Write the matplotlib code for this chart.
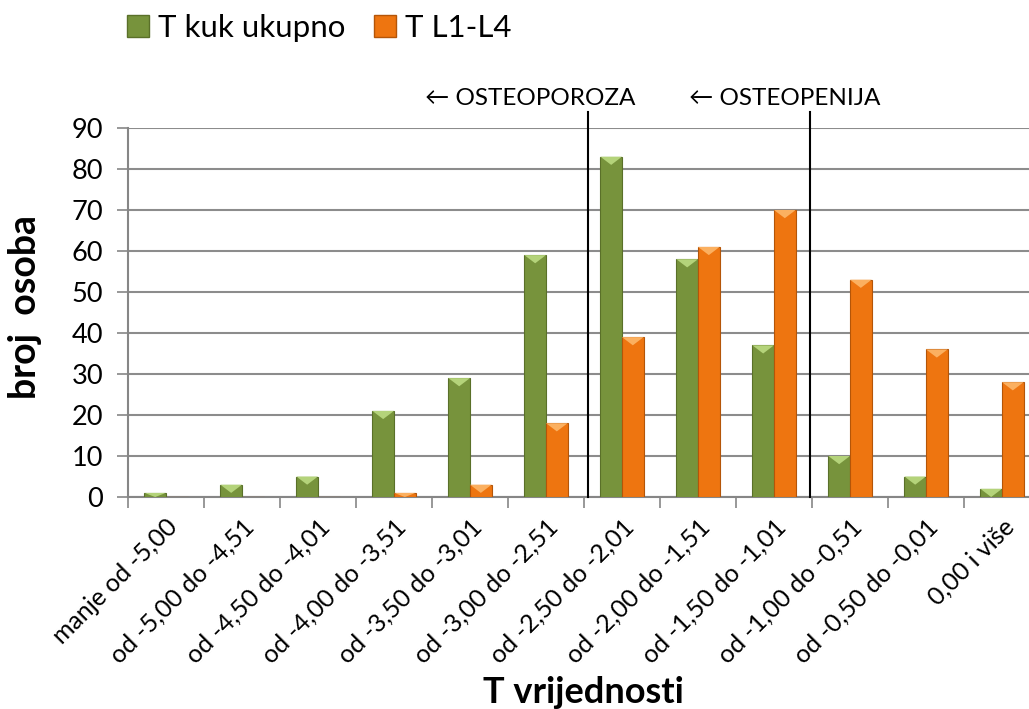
import matplotlib
matplotlib.use("Agg")
import matplotlib.pyplot as plt
from matplotlib.patches import Patch, Polygon
import numpy as np

plt.rcParams['font.family'] = ['Lato', 'DejaVu Sans']

categories = ["manje od -5,00", "od -5,00 do -4,51", "od -4,50 do -4,01",
              "od -4,00 do -3,51", "od -3,50 do -3,01", "od -3,00 do -2,51",
              "od -2,50 do -2,01", "od -2,00 do -1,51", "od -1,50 do -1,01",
              "od -1,00 do -0,51", "od -0,50 do -0,01", "0,00 i više"]
t_kuk = [1, 3, 5, 21, 29, 59, 83, 58, 37, 10, 5, 2]
t_l1l4 = [0, 0, 0, 1, 3, 18, 39, 61, 70, 53, 36, 28]
series_names = ["T kuk ukupno", "T L1-L4"]
yticks = [0, 10, 20, 30, 40, 50, 60, 70, 80, 90]
threshold_labels = ["\u2190 OSTEOPOROZA", "\u2190 OSTEOPENIJA"]
threshold_pos = [5.55, 8.47]

green = "#77933C"
green_edge = "#5A7029"
green_light = "#B4D37A"
orange = "#EE7510"
orange_edge = "#B45508"
orange_light = "#FBB060"

W, H = 1029, 709
fig = plt.figure(figsize=(W / 100, H / 100), dpi=100)
ax_left, ax_right = 128 / W, 1040 / W
ax_bottom, ax_top = 1 - 497 / H, 1 - 128 / H
ax = fig.add_axes([ax_left, ax_bottom, ax_right - ax_left, ax_top - ax_bottom])

x = np.arange(len(categories))
bw = 0.285
for vals, off, fc, ec, lc in [(t_kuk, -bw / 2, green, green_edge, green_light),
                              (t_l1l4, bw / 2, orange, orange_edge, orange_light)]:
    bars = ax.bar(x + off, vals, width=bw, color=fc, edgecolor=ec, linewidth=0.8, zorder=3)
    for b, v in zip(bars, vals):
        if v <= 0:
            continue
        x0 = b.get_x()
        x1 = x0 + b.get_width()
        h = min(2.0, v)
        tri = Polygon([[x0, v], [x1, v], [(x0 + x1) / 2, v - h]], closed=True,
                      facecolor=lc, edgecolor='none', zorder=4)
        ax.add_patch(tri)

ax.set_xlim(-0.5, len(categories) - 0.5)
ax.set_ylim(0, 90)
ax.set_yticks(yticks)
ax.tick_params(axis='y', labelsize=19.5, length=8, width=1.2, color='#868686', pad=10)
ax.set_xticks(x - 0.5, minor=False)
ax.set_xticklabels([])
ax.set_xticks(x, minor=True)
ax.set_xticklabels(categories, minor=True, rotation=45, ha='right', rotation_mode='anchor', fontsize=18)
ax.tick_params(axis='x', which='major', length=8, width=1.2, color='#868686')
ax.tick_params(axis='x', which='minor', length=0, pad=13)
ax.grid(axis='y', color='#8C8C8C', linewidth=1.5, zorder=0)
ax.set_axisbelow(True)
for s in ['top', 'right']:
    ax.spines[s].set_visible(False)
for s in ['left', 'bottom']:
    ax.spines[s].set_color('#868686')
    ax.spines[s].set_linewidth(1.5)

for xp in threshold_pos:
    ax.plot([xp, xp], [0, 94], color='black', linewidth=1.5, clip_on=False, zorder=5)

fig.text(530 / W, 1 - 105 / H, threshold_labels[0], fontsize=17.5, ha='center', va='baseline')
fig.text(785 / W, 1 - 105 / H, threshold_labels[1], fontsize=17.5, ha='center', va='baseline')

fig.text(583 / W, 1 - 703 / H, "T vrijednosti", fontsize=26, fontweight='bold', ha='center', va='baseline')
fig.text(25 / W, 1 - 307 / H, "broj  osoba", fontsize=27, fontweight='bold', ha='center', va='center', rotation=90)

handles = [Patch(facecolor=green, edgecolor=green_edge), Patch(facecolor=orange, edgecolor=orange_edge)]
fig.legend(handles, series_names, loc='center left', bbox_to_anchor=(127 / W, 1 - 28 / H),
           ncol=2, frameon=False, fontsize=22.5, handlelength=0.7, handleheight=0.7,
           handletextpad=0.3, columnspacing=0.9, borderpad=0, borderaxespad=0)

fig.savefig("out.png", dpi=100)
